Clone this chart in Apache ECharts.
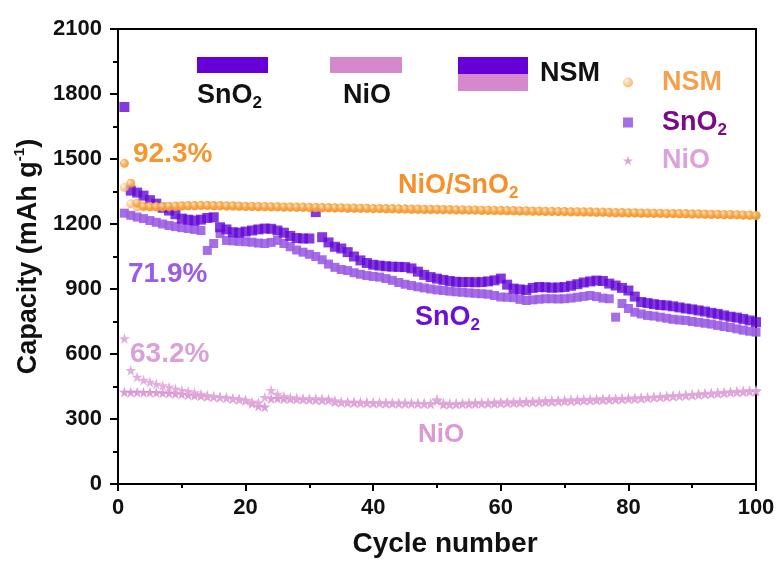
<!DOCTYPE html>
<html><head><meta charset="utf-8">
<script src="https://cdn.jsdelivr.net/npm/echarts@6/dist/echarts.min.js"></script>
<style>html,body{margin:0;padding:0;background:#fff}#c{width:779px;height:563px}</style>
</head><body><div id="c"></div>
<script>
const xTicks = [0, 20, 40, 60, 80, 100];
const yTicks = [0, 300, 600, 900, 1200, 1500, 1800, 2100];
const cycles = Array.from({length: 100}, (_, i) => i + 1);

const nsmDischarge = [1480,1388,1296,1283,1281,1280,1281,1282,1283,1284,
1285,1285,1286,1286,1285,1285,1284,1284,1283,1282,
1282,1281,1281,1280,1280,1279,1279,1278,1278,1277,
1277,1276,1276,1275,1275,1274,1274,1273,1273,1272,
1272,1271,1271,1270,1270,1269,1269,1268,1268,1268,
1267,1267,1266,1266,1265,1265,1264,1264,1263,1263,
1262,1262,1261,1261,1260,1260,1259,1259,1258,1258,
1257,1257,1256,1256,1255,1255,1254,1253,1253,1252,
1252,1251,1251,1250,1250,1249,1249,1248,1248,1247,
1247,1246,1245,1245,1244,1244,1243,1242,1241,1240];
const nsmCharge = [1369,1293,1279,1279,1278,1278,1279,1280,1281,1282,
1283,1283,1284,1284,1283,1283,1282,1282,1281,1280,
1280,1279,1279,1278,1278,1277,1277,1276,1276,1275,
1275,1274,1274,1273,1273,1272,1272,1271,1271,1270,
1270,1269,1269,1268,1268,1267,1267,1266,1266,1266,
1265,1265,1264,1264,1263,1263,1262,1262,1261,1261,
1260,1260,1259,1259,1258,1258,1257,1257,1256,1256,
1255,1255,1254,1254,1253,1253,1252,1251,1251,1250,
1250,1249,1249,1248,1248,1247,1247,1246,1246,1245,
1245,1244,1243,1243,1242,1242,1241,1240,1239,1238];
const sno2Discharge = [1740,1354,1345,1331,1310,1294,1275,1262,1245,1225,
1220,1216,1220,1228,1231,1185,1175,1162,1160,1165,
1170,1175,1179,1178,1170,1160,1145,1135,1133,1133,
1255,1139,1115,1095,1087,1070,1050,1032,1020,1012,
1008,1005,1003,1002,1001,995,980,965,955,948,
942,937,933,932,932,931,932,935,940,948,
920,902,898,895,905,909,908,906,907,909,
915,922,930,935,939,937,925,916,905,893,
865,840,835,830,826,824,820,815,810,806,
801,796,790,785,778,772,768,762,755,747];
const sno2Charge = [1250,1240,1232,1225,1216,1208,1200,1193,1188,1183,
1179,1175,1170,1078,1110,1156,1124,1122,1120,1118,
1116,1112,1110,1115,1124,1110,1095,1080,1070,1060,
1050,1035,1015,1000,990,985,975,968,962,958,
955,948,940,930,922,916,910,905,900,896,
893,890,887,885,882,880,878,876,870,863,
862,860,852,847,850,853,855,855,854,855,
858,862,866,870,865,858,855,770,833,810,
793,785,778,775,770,765,760,757,755,750,
746,742,738,732,727,722,716,710,705,701];
const nioDischarge = [671,525,494,480,471,462,455,448,440,433,
428,422,415,410,405,402,398,394,390,385,
379,376,400,433,415,405,400,397,395,395,
394,393,392,385,380,379,378,378,377,377,
376,376,375,375,375,374,374,373,372,390,
375,372,373,374,375,376,376,377,378,379,
379,380,381,382,383,384,385,386,387,388,
389,390,391,392,393,394,394,395,396,397,
398,399,400,402,404,406,408,410,412,414,
416,418,420,422,424,426,428,430,432,433];
const nioCharge = [425,424,424,423,423,422,421,420,418,415,
412,410,407,404,402,400,398,395,392,388,
372,360,356,395,396,394,393,392,391,390,
389,388,388,380,377,376,376,375,375,374,
374,373,373,372,372,372,371,371,370,385,
368,368,369,370,370,371,372,372,373,374,
375,375,376,377,378,379,380,381,382,383,
384,385,386,387,388,389,390,391,392,393,
394,396,398,400,401,403,405,407,409,411,
413,415,417,419,421,423,425,426,427,428];

const pairs = arr => cycles.map((c, i) => [c, arr[i]]);
const STAR = 'path://M50,0 L61,35 L98,35 L68,57 L79,91 L50,70 L21,91 L32,57 L2,35 L39,35 Z';
const FONT = 'Liberation Sans, Arial, sans-serif';
const orangeDark = {type:'radial', x:0.35, y:0.35, r:0.75, colorStops:[{offset:0,color:'#ffe2b8'},{offset:0.45,color:'#f7a13c'},{offset:1,color:'#ef8a12'}]};
const orangeLight = {type:'radial', x:0.35, y:0.35, r:0.75, colorStops:[{offset:0,color:'#fff1dc'},{offset:0.5,color:'#f8c184'},{offset:1,color:'#f3aa5a'}]};

const chart = echarts.init(document.getElementById('c'), null, {renderer:'canvas'});
const sub = (size, color) => ({
  a: {fontSize: size, fontWeight: 'bold', fontFamily: FONT, color: color, lineHeight: size + 6},
  s: {fontSize: Math.round(size * 0.62), fontWeight: 'bold', fontFamily: FONT, color: color, lineHeight: 10, verticalAlign: 'bottom'}
});
function subText(x, y, main, subs, size, color) {
  return {type:'text', left:x, top:y, style:{rich: sub(size, color), text: '{a|' + main + '}' + (subs ? '{s|' + subs + '}' : ''), fill: color}};
}
const legendBase = (name, top, color, textCol, main, subs) => ({
  data:[{name:name, itemStyle:{color:color}}], orient:'vertical', left:618, top:top,
  itemWidth:10, itemHeight:10, selectedMode:false,
  formatter: () => '{a|' + main + '}' + (subs ? '{s|' + subs + '}' : ''),
  textStyle:{padding:[0,0,0,24], rich: sub(27, textCol)}
});

chart.setOption({
  animation:false,
  backgroundColor:'#fff',
  grid:{left:118, right:23, top:29, bottom:79, show:true, borderColor:'#000', borderWidth:2, backgroundColor:'transparent'},
  xAxis:{type:'value', min:0, max:100, interval:20,
    name:'Cycle number', nameLocation:'middle', nameGap:46,
    nameTextStyle:{fontSize:28, fontWeight:'bold', color:'#111', fontFamily:FONT, padding:[0,0,0,16]},
    axisLine:{show:true, lineStyle:{color:'#000', width:2}},
    axisTick:{show:true, inside:false, length:7, lineStyle:{color:'#000', width:2}},
    minorTick:{show:true, splitNumber:2, length:4, lineStyle:{color:'#000', width:2}},
    splitLine:{show:false},
    axisLabel:{fontSize:22, fontWeight:'bold', color:'#111', margin:13, fontFamily:FONT,
      formatter: v => xTicks.includes(v) ? String(v) : ''}
  },
  yAxis:{type:'value', min:0, max:2100, interval:300,
    name:'{a|Capacity (mAh g}{p|-1}{a|)}', nameLocation:'middle', nameGap:70, nameRotate:90,
    nameTextStyle:{rich:{a:{fontSize:27, fontWeight:'bold', color:'#111', fontFamily:FONT, lineHeight:32},
      p:{fontSize:15, fontWeight:'bold', color:'#111', fontFamily:FONT, lineHeight:10, verticalAlign:'top'}}},
    axisLine:{show:true, lineStyle:{color:'#000', width:2}},
    axisTick:{show:true, inside:false, length:8, lineStyle:{color:'#000', width:2}},
    minorTick:{show:true, splitNumber:2, length:5, lineStyle:{color:'#000', width:2}},
    splitLine:{show:false},
    axisLabel:{fontSize:22, fontWeight:'bold', color:'#111', margin:16, fontFamily:FONT,
      formatter: v => yTicks.includes(v) ? String(v) : ''}
  },
  legend:[
    legendBase('NSM', 64, orangeLight, '#f5a04e', 'NSM', ''),
    legendBase('SnO2', 104, '#9b5de3', '#7a0a87', 'SnO', '2'),
    legendBase('NiO', 142, '#d69cd3', '#dba3d8', 'NiO', '')
  ],
  series:[
    {name:'SnO2', type:'scatter', data:pairs(sno2Charge), symbol:'rect', symbolSize:9, itemStyle:{color:'#9b5de3', opacity:0.9}, z:2},
    {name:'SnO2 discharge', type:'scatter', data:pairs(sno2Discharge), symbol:'rect', symbolSize:10, itemStyle:{color:'#6308d6'}, z:3},
    {name:'NiO charge', type:'scatter', data:pairs(nioCharge), symbol:STAR, symbolSize:11, itemStyle:{color:'#d586cc'}, z:4},
    {name:'NiO', type:'scatter', data:pairs(nioDischarge), symbol:STAR, symbolSize:11, itemStyle:{color:'#e1a6da', opacity:0.9}, z:5},
    {name:'NSM', type:'scatter', data:pairs(nsmCharge), symbol:'circle', symbolSize:9, itemStyle:{color:orangeLight}, z:6},
    {name:'NSM discharge', type:'scatter', data:pairs(nsmDischarge), symbol:'circle', symbolSize:9, itemStyle:{color:orangeDark}, z:7}
  ],
  graphic:[
    {type:'rect', shape:{x:197, y:57, width:71, height:16}, style:{fill:'#6600d6'}},
    subText(197, 82, 'SnO', '2', 27, '#111'),
    {type:'rect', shape:{x:330, y:57, width:72, height:16}, style:{fill:'#d688cd'}},
    subText(343, 82, 'NiO', '', 27, '#111'),
    {type:'rect', shape:{x:458, y:57, width:70, height:17}, style:{fill:'#6600d6'}},
    {type:'rect', shape:{x:458, y:74, width:70, height:17}, style:{fill:'#d688cd'}},
    subText(540, 60, 'NSM', '', 27, '#111'),
    subText(133, 140, '92.3%', '', 28, '#f5972e'),
    subText(128, 260, '71.9%', '', 28, '#9b5de5'),
    subText(130, 340, '63.2%', '', 28, '#dba0d6'),
    subText(398, 172, 'NiO/SnO', '2', 27, '#f5902a'),
    subText(415, 304, 'SnO', '2', 27, '#6a10d8'),
    subText(418, 422, 'NiO', '', 26, '#d99ad5')
  ]
});
</script></body></html>
